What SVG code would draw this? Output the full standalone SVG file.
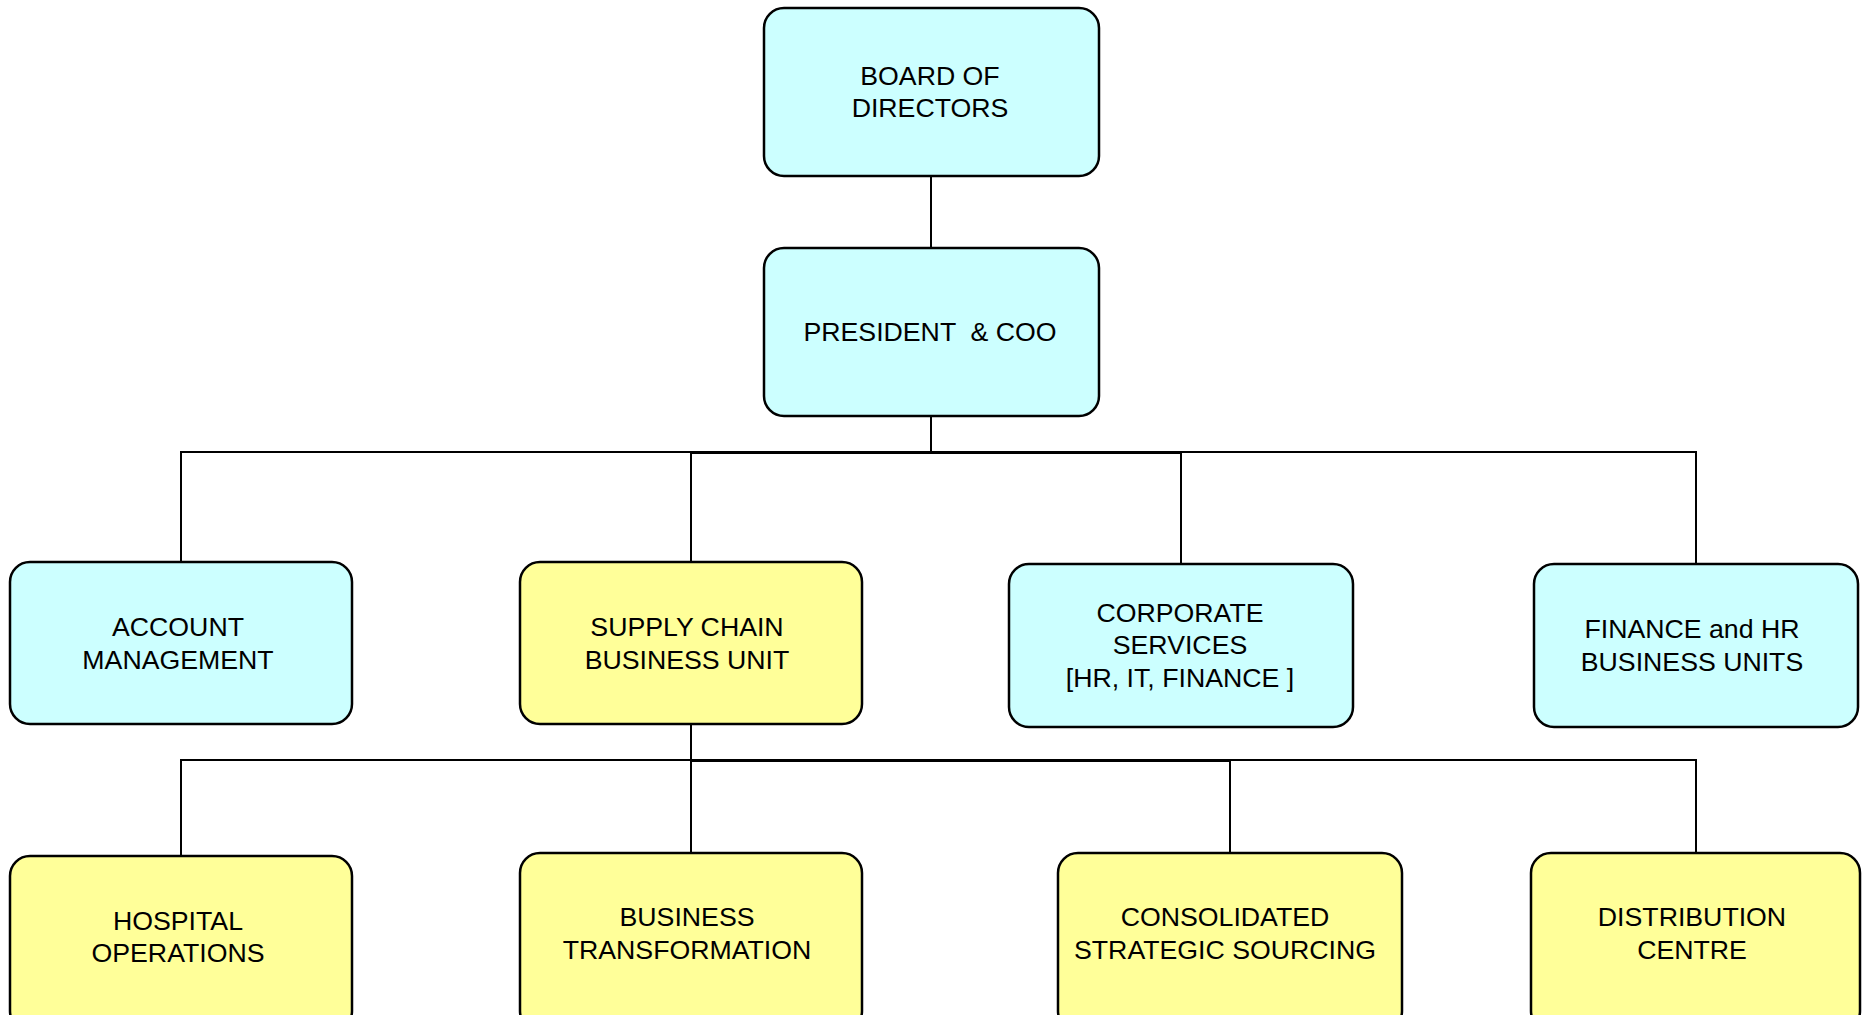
<svg xmlns="http://www.w3.org/2000/svg" width="1866" height="1015" viewBox="0 0 1866 1015">
<style>
.box{stroke:#000;stroke-width:2.5}
.c{fill:#CCFFFF}
.y{fill:#FFFF99}
text{font-family:"Liberation Sans",Arial,sans-serif;font-size:26.7px;fill:#000;text-anchor:middle;white-space:pre}
.ln{fill:none;stroke:#000;stroke-width:2}
</style>
<rect width="1866" height="1015" fill="#fff"/>
<g id="connectors">
<path class="ln" d="M931 176V248"/>
<path class="ln" d="M931 416V452H181V562"/>
<path class="ln" d="M931 452H691V562"/>
<path class="ln" d="M931 452H1181V564"/>
<path class="ln" d="M691 453H1181"/>
<path class="ln" d="M931 452H1696V564"/>
<path class="ln" d="M691 724V853"/>
<path class="ln" d="M691 760H181V856"/>
<path class="ln" d="M691 761H1230V853"/>
<path class="ln" d="M691 760H1230"/>
<path class="ln" d="M691 760H1696V853"/>
</g>
<g id="board"><rect class="box c" x="764" y="8" width="335" height="168" rx="20"/><text x="930" y="85">BOARD OF</text><text x="930" y="117">DIRECTORS</text></g>
<g id="president"><rect class="box c" x="764" y="248" width="335" height="168" rx="20"/><text x="930" y="341" xml:space="preserve">PRESIDENT  &amp; COO</text></g>
<g id="account"><rect class="box c" x="10" y="562" width="342" height="162" rx="20"/><text x="178" y="636">ACCOUNT</text><text x="178" y="669">MANAGEMENT</text></g>
<g id="supply"><rect class="box y" x="520" y="562" width="342" height="162" rx="20"/><text x="687" y="636">SUPPLY CHAIN</text><text x="687" y="669">BUSINESS UNIT</text></g>
<g id="corporate"><rect class="box c" x="1009" y="564" width="344" height="163" rx="20"/><text x="1180" y="622">CORPORATE</text><text x="1180" y="654">SERVICES</text><text x="1180" y="687">[HR, IT, FINANCE ]</text></g>
<g id="finance"><rect class="box c" x="1534" y="564" width="324" height="163" rx="20"/><text x="1692" y="638">FINANCE and HR</text><text x="1692" y="671">BUSINESS UNITS</text></g>
<g id="hospital"><rect class="box y" x="10" y="856" width="342" height="175" rx="20"/><text x="178" y="930">HOSPITAL</text><text x="178" y="962">OPERATIONS</text></g>
<g id="business"><rect class="box y" x="520" y="853" width="342" height="178" rx="20"/><text x="687" y="926">BUSINESS</text><text x="687" y="959">TRANSFORMATION</text></g>
<g id="consolidated"><rect class="box y" x="1058" y="853" width="344" height="178" rx="20"/><text x="1225" y="926">CONSOLIDATED</text><text x="1225" y="959">STRATEGIC SOURCING</text></g>
<g id="distribution"><rect class="box y" x="1531" y="853" width="329" height="178" rx="20"/><text x="1692" y="926">DISTRIBUTION</text><text x="1692" y="959">CENTRE</text></g>
</svg>
